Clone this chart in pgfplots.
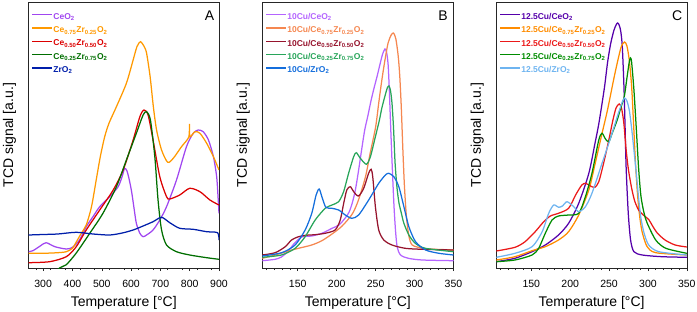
\documentclass[border=0pt]{standalone}
\usepackage{fontspec}
\setmainfont{Liberation Sans}
\usepackage{pgfplots}
\pgfplotsset{compat=1.18}

\definecolor{aPur}{RGB}{160,70,240}
\definecolor{aOra}{RGB}{255,153,0}
\definecolor{aRed}{RGB}{220,0,0}
\definecolor{aGre}{RGB}{0,110,0}
\definecolor{aBlu}{RGB}{0,30,170}
\definecolor{bPur}{RGB}{180,100,255}
\definecolor{bOra}{RGB}{245,135,80}
\definecolor{bRed}{RGB}{150,20,45}
\definecolor{bGre}{RGB}{40,165,90}
\definecolor{bBlu}{RGB}{20,110,220}
\definecolor{cPur}{RGB}{85,0,170}
\definecolor{cOra}{RGB}{255,140,0}
\definecolor{cRed}{RGB}{235,25,25}
\definecolor{cGre}{RGB}{0,140,0}
\definecolor{cBlu}{RGB}{110,180,240}

\pgfplotsset{
  tcd/.style={
    scale only axis, height=266pt,
    ymin=0, ymax=266, ytick=\empty,
    axis line style={line width=0.6pt, black!85},
    tick align=outside, xtick pos=bottom, ytick pos=left,
    major tick length=3pt, minor tick length=2pt,
    every tick/.style={black!85, line width=0.5pt},
    /pgf/number format/assume math mode=true,
    /pgf/number format/1000 sep={},
    xticklabel style={font=\fontsize{10.5}{12}\selectfont, anchor=base, yshift=-16.3pt},
    xlabel={Temperature [°C]},
    xlabel style={font=\fontsize{14}{16}\selectfont, at={(axis description cs:0.5,0)}, anchor=base, yshift=-38pt},
    ylabel={TCD signal [a.u.]},
    ylabel style={font=\fontsize{14}{16}\selectfont, at={(axis description cs:-0.1,0.5)}, anchor=center},
    legend cell align=left,
    legend style={at={(0,1)}, anchor=north west, xshift=3pt, yshift=-10.5pt, draw=none, fill=none, inner sep=0pt,
      font=\bfseries\fontsize{8.5}{10}\selectfont, row sep=4.3pt,
      nodes={inner sep=0.5pt, text height=6.2pt, text depth=1.8pt},
      /tikz/every even column/.append style={column sep=2pt}},
    legend image code/.code={\draw[##1, line width=1.3pt] (0pt,2.5pt) -- (20pt,2.5pt);},
    every axis plot/.append style={line width=1.25pt, smooth, tension=0.45},
  }
}

\begin{document}
\begin{tikzpicture}
% ---------------- Panel A ----------------
\begin{axis}[tcd, at={(28.5pt,43pt)}, anchor=south west, width=190.5pt,
  xmin=250, xmax=900, xtick={300,400,...,900}, minor xtick={275,325,...,875}]
\addplot[aPur] coordinates {(250,16.3)(265,17.3)(290,22)(310,25.3)(340,21.3)(379,19)(400,20.7)(424,28)(447,41.3)(470,51.3)(493,61.3)(527,71.3)(556,81.3)(570,92)(578,99.7)(586,97)(594,88)(602,76)(610,60)(618,44.7)(630,34.7)(641,31.3)(653,33)(675,38)(698,48)(721,61.3)(755,88)(789,121.3)(812,134.7)(829,138)(846,136.3)(864,128)(881,111.3)(892,91.3)(897,70)(900,54.7)};
\addlegendentry{\textcolor{aPur}{CeO\textsubscript{2}}}
\addplot[aOra] coordinates {(250,14.7)(300,14.7)(350,15.3)(379,16.3)(400,19.7)(413,26)(430,34.7)(447,43)(465,61.3)(481,88)(495,111.3)(510,131.3)(525,145)(550,161.3)(584,184.7)(607,208)(620,221.3)(632,226.3)(645,221.3)(653,214.7)(665,191.3)(676,161.3)(687,138)(704,118)(725,105.7)(744,109.7)(772,121.3)(797,131)(799,144)(801,131.3)(818,136.3)(835,134.7)(858,124.7)(881,111.3)(900,98)};
\addlegendentry{\textcolor{aOra}{Ce\textsubscript{0.75}Zr\textsubscript{0.25}O\textsubscript{2}}}
\addplot[aRed] coordinates {(250,5.3)(322,6.3)(379,11.3)(413,21.3)(447,38)(493,58)(539,78)(573,98)(607,128)(630,151.3)(644,158)(658,153)(675,128)(698,91.3)(721,71.3)(732,69)(766,73)(800,79.7)(835,76.3)(869,68)(900,63)};
\addlegendentry{\textcolor{aRed}{Ce\textsubscript{0.50}Zr\textsubscript{0.50}O\textsubscript{2}}}
\addplot[aGre] coordinates {(250,-30)(300,-15)(356,0)(379,3.3)(413,15)(459,34.7)(504,54.7)(550,81.3)(584,108)(618,134.7)(641,153)(653,156.3)(666,148)(681,111.3)(692,68)(704,38)(721,23)(755,16.3)(800,13)(858,10.3)(900,8.7)};
\addlegendentry{\textcolor{aGre}{Ce\textsubscript{0.25}Zr\textsubscript{0.75}O\textsubscript{2}}}
\addplot[aBlu] coordinates {(250,33)(300,33.5)(350,34)(413,35.7)(470,34)(527,33)(570,35)(607,38)(641,42)(675,46.3)(704,50.7)(732,45.3)(766,39.7)(812,38.7)(858,36.3)(895,35.3)(900,28)};
\addlegendentry{\textcolor{aBlu}{ZrO\textsubscript{2}}}
\node[font=\fontsize{14}{16}\selectfont] at (rel axis cs:0.95,0.95) {A};
\end{axis}
% ---------------- Panel B ----------------
\begin{axis}[tcd, at={(262.3pt,43pt)}, anchor=south west, width=191.2pt,
  xmin=104.5, xmax=350, xtick={150,200,...,350}, minor xtick={110,120,...,340}]
\addplot[bPur] coordinates {(104.5,7.3)(121,8.7)(129,11)(138,17)(145,24)(155,31)(168,32)(181,34.7)(194,39.7)(203,43)(211,50)(216,56)(220,65)(224,78)(228,97)(232,118)(236,138)(240,152)(244,167)(248,180)(252,192)(256,205)(259,214)(262,219)(264,216)(266,204)(267.5,180)(269,148)(271,108)(273.4,65)(275.5,38)(277.7,21)(282,13)(292,9.7)(310,8)(350,7.3)};
\addlegendentry{\textcolor{bPur}{10Cu/CeO\textsubscript{2}}}
\addplot[bOra] coordinates {(104.5,9.7)(121,13)(138,17)(151,19.7)(168,23)(181,27.3)(194,34)(207,42)(220,54)(228,68)(237,91.3)(243,114.7)(250,141)(254,165)(258,188)(262,208)(266,225)(270,233)(273,235)(276,229)(279,212)(281,192)(283,160)(285,118)(287,82)(289.5,52)(292.7,32)(297,23)(310,19.7)(318,19)(350,18)};
\addlegendentry{\textcolor{bOra}{10Cu/Ce\textsubscript{0.75}Zr\textsubscript{0.25}O\textsubscript{2}}}
\addplot[bRed] coordinates {(104.5,13)(121,15.3)(134,21.3)(142,28)(151,31.3)(160,32.7)(172,33.3)(185,34.7)(198,38)(204.6,48)(209,64.7)(213,78)(217.5,81.3)(221.8,76.3)(228,72)(234.7,79.7)(241,94.7)(244.2,98.7)(246.3,91.3)(249.7,61.3)(254,38)(260.5,28)(271,23)(288,19.7)(310,18.7)(350,18)};
\addlegendentry{\textcolor{bRed}{10Cu/Ce\textsubscript{0.50}Zr\textsubscript{0.50}O\textsubscript{2}}}
\addplot[bGre] coordinates {(104.5,10.7)(129,13)(146.6,19.7)(159.5,31.3)(172.4,48)(185.3,59.7)(194,63)(202.5,66.3)(208.9,76.3)(215.3,94.7)(221.8,111.3)(225.2,115.3)(230.4,109.7)(238.1,103.7)(243.3,111.3)(249.7,131.3)(254.9,148)(258,160)(262,172)(265,180)(267,182)(269,178)(271,165)(273,140)(275,105)(277.5,80)(280,65)(283,55)(286.3,44.7)(292.7,33)(301,24.7)(314,19.7)(350,16.3)};
\addlegendentry{\textcolor{bGre}{10Cu/Ce\textsubscript{0.25}Zr\textsubscript{0.75}O\textsubscript{2}}}
\addplot[bBlu] coordinates {(104.5,12)(129.4,15.3)(146.6,23)(159.5,38)(168,54.7)(173.6,73)(177.5,79)(181,71.3)(186.1,60.7)(193.9,59.7)(202.5,58)(211,53)(219.6,49.7)(228.2,53)(241.1,68)(254,84.7)(262.6,93)(266.9,94.7)(273.4,91.3)(279.8,81.3)(286.3,61.3)(292.7,41.3)(301.3,26.3)(314.2,18)(331.4,14.7)(350,13)};
\addlegendentry{\textcolor{bBlu}{10Cu/ZrO\textsubscript{2}}}
\node[font=\fontsize{14}{16}\selectfont] at (rel axis cs:0.945,0.95) {B};
\end{axis}
% ---------------- Panel C ----------------
\begin{axis}[tcd, at={(496.3pt,43pt)}, anchor=south west, width=190.5pt,
  xmin=105, xmax=350, xtick={150,200,...,350}, minor xtick={110,120,...,340}]
\addplot[cPur] coordinates {(105,6.3)(129,9.7)(151,16.3)(168,23)(185,33)(198,44.7)(211,64.7)(224,94.7)(232,125)(237,145)(244,180)(248,205)(252,224)(256,237)(259,243)(261,245)(263,243)(265,237)(267,222)(269,185)(270.5,145)(272,100)(274.7,55)(277.7,28)(282,16.3)(292.7,13)(318,11.3)(350,10.7)};
\addlegendentry{\textcolor{cPur}{12.5Cu/CeO\textsubscript{2}}}
\addplot[cOra] coordinates {(105,8)(129,11.3)(151,17.3)(168,21.3)(185,28)(198,36.3)(211,53)(224,78)(232,104)(241,134.7)(248,158)(256.6,191)(262,210)(266,222)(270,226)(273,222)(276,208)(279,182)(281.5,145)(284,105)(287,70)(290,48)(293,34.7)(299,21.3)(310,15.3)(350,13)};
\addlegendentry{\textcolor{cOra}{12.5Cu/Ce\textsubscript{0.75}Zr\textsubscript{0.25}O\textsubscript{2}}}
\addplot[cRed] coordinates {(105,17)(129,20.7)(142,26.3)(155,36.3)(166,46.3)(174.5,52)(185,54.7)(198,59.7)(207,73)(215,83)(220,84.7)(226,82)(231.7,80.7)(236.8,86.3)(243,104.7)(249.7,128)(255,148)(259,160)(263,164)(266,160)(269,145)(272,118)(275,98)(279,80)(283,67)(288,58)(294,53)(301,48.5)(306,42)(312,35)(322,28)(335,23)(350,21)};
\addlegendentry{\textcolor{cRed}{12.5Cu/Ce\textsubscript{0.50}Zr\textsubscript{0.50}O\textsubscript{2}}}
\addplot[cGre] coordinates {(105,6.3)(129,8)(151,13)(159.5,19.7)(168,34.7)(176.7,48)(185,52)(198,53)(211,54.7)(219.6,71.3)(228,94.7)(236.8,128)(241,134.7)(245.4,129)(249.7,126.3)(254,134.7)(260.5,148)(265,160)(269.5,171)(273,190)(276,206)(277.5,210)(279,206)(282,178)(285,140)(288,100)(291,72)(295,55)(299,45)(310,28)(323,19.7)(350,14.7)};
\addlegendentry{\textcolor{cGre}{12.5Cu/Ce\textsubscript{0.25}Zr\textsubscript{0.75}O\textsubscript{2}}}
\addplot[cBlu] coordinates {(105,10.7)(129,14.7)(151,21.3)(164,36.3)(172.4,54.7)(178.8,63)(185,60.7)(190,62)(196,66.3)(204.6,61.3)(211,56.3)(219.6,61.3)(228,74.7)(241,104.7)(249.7,124.7)(256,140)(260,150)(263,157)(267,166)(270,170)(273,167)(276,158)(279,140)(282,118)(285,95)(288,70)(291,50)(295,35)(301,23)(314,16.3)(350,13)};
\addlegendentry{\textcolor{cBlu}{12.5Cu/ZrO\textsubscript{2}}}
\node[font=\fontsize{14}{16}\selectfont] at (rel axis cs:0.95,0.95) {C};
\end{axis}
\pgfresetboundingbox
\useasboundingbox (0,0) rectangle (697pt,311pt);
\end{tikzpicture}
\end{document}
